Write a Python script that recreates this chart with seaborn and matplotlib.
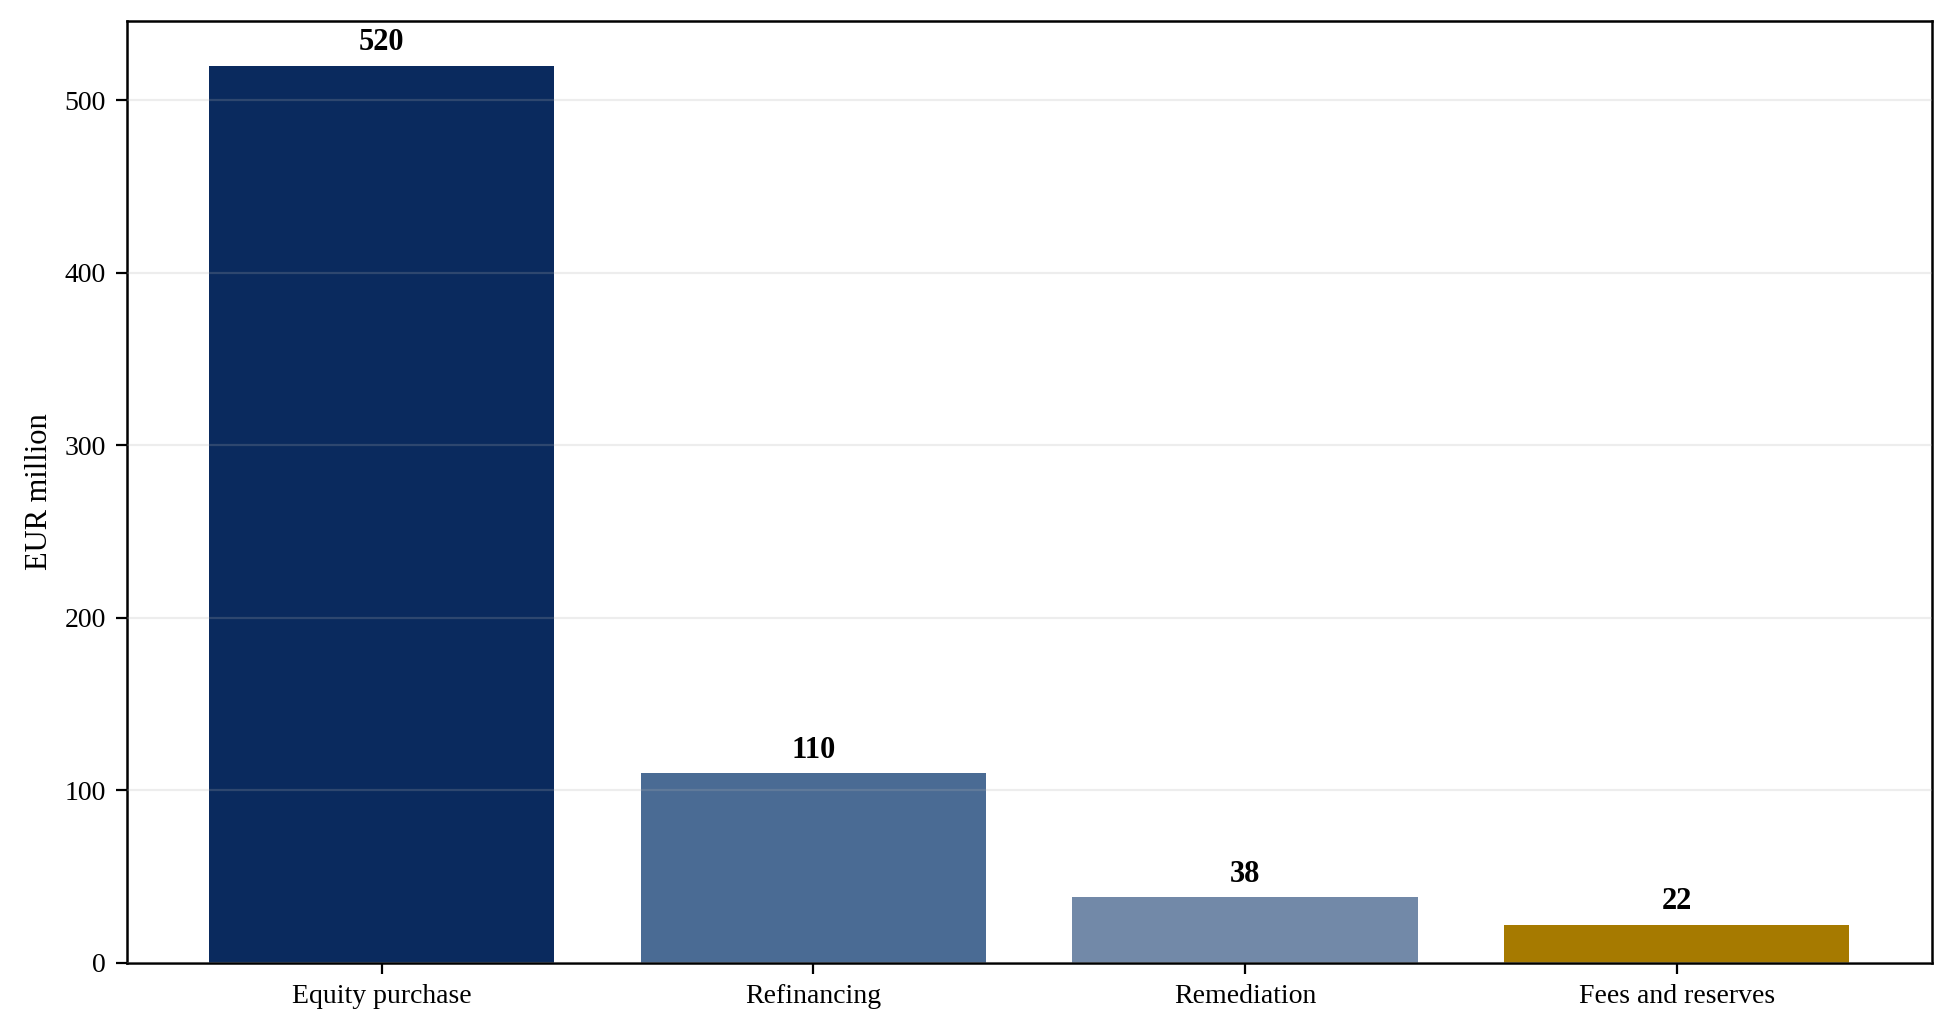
import numpy as np
import pandas as pd
import seaborn as sns
import matplotlib.pyplot as plt

categories = ['Equity purchase', 'Refinancing', 'Remediation', 'Fees and reserves']
values = [520, 110, 38, 22]
colors = ['#0A2A5E', '#4A6B94', '#7289A8', '#A67A00']

sns.set_style('white')
plt.rcParams['font.family'] = ['Liberation Serif', 'DejaVu Serif']
plt.rcParams['text.color'] = 'black'
plt.rcParams['axes.labelcolor'] = 'black'
plt.rcParams['xtick.color'] = 'black'
plt.rcParams['ytick.color'] = 'black'

df = pd.DataFrame({'Use': categories, 'EUR': values})

fig, ax = plt.subplots(figsize=(9.765, 5.165), dpi=200)
sns.barplot(data=df, x='Use', y='EUR', hue='Use', palette=colors,
            width=0.8, saturation=1, legend=False, linewidth=0,
            edgecolor='none', ax=ax)

for p, v in zip(ax.patches, values):
    ax.annotate(f'{v}', (p.get_x() + p.get_width() / 2, p.get_height()),
                xytext=(0, 3), textcoords='offset points',
                ha='center', va='bottom', fontsize=11, fontweight='bold')

ax.set_xlim(-0.59, 3.59)
ax.set_ylim(0, max(values) * 1.05)
ax.set_xlabel('')
ax.set_ylabel('EUR million', fontsize=11)
ax.grid(axis='y', color='#b0b0b0', alpha=0.22, linewidth=0.8)
ax.set_axisbelow(False)
ax.tick_params(axis='both', direction='out', length=4, width=0.8,
               labelsize=10, bottom=True, left=True)
for s in ax.spines.values():
    s.set_visible(True)
    s.set_color('black')
    s.set_linewidth(0.9)

plt.subplots_adjust(left=0.065, right=0.989, top=0.98, bottom=0.068)
plt.savefig('out.png', dpi=200)
